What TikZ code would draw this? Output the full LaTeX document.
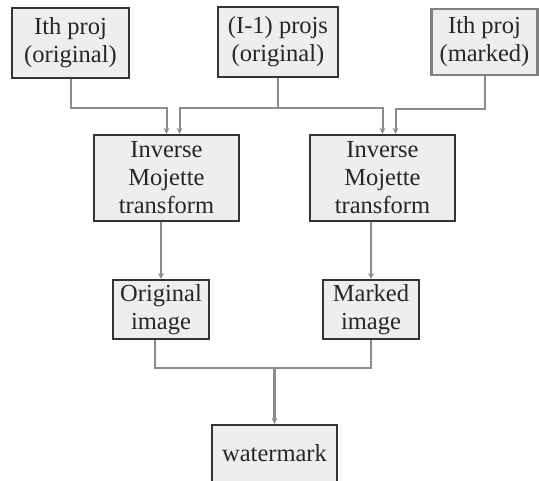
\documentclass[tikz,border=0pt]{standalone}
\usepackage{fontspec}
\setmainfont{Liberation Serif}
\usetikzlibrary{arrows.meta,calc}
\definecolor{boxfill}{HTML}{EEEEEE}
\definecolor{boxline}{HTML}{333333}
\definecolor{wire}{HTML}{8C8C8C}
\definecolor{ink}{HTML}{262626}
\tikzset{
  blk/.style={draw=boxline, line width=2.2pt, fill=boxfill, rectangle,
    inner sep=0pt, align=center, text=ink,
    font=\fontsize{24.5pt}{28pt}\selectfont},
  conn/.style={draw=wire, line width=2pt,
    -{Stealth[length=6pt,width=6pt]}},
  mainconn/.style={conn, line width=2.8pt},
  plain/.style={draw=wire, line width=2pt}
}
\begin{document}
\begin{tikzpicture}[x=1pt,y=-1pt]
  \useasboundingbox (0,0) rectangle (539,481);
  \clip (0,0) rectangle (539,481);

  % projection inputs
  \node[blk, minimum width=117pt, minimum height=70pt] (b1) at (70.5,43) {Ith proj\\(original)};
  \node[blk, minimum width=120pt, minimum height=70pt] (b2) at (278,42) {(I-1) projs\\(original)};
  \node[blk, draw=gray, minimum width=106pt, minimum height=66pt] (b3) at (484.5,42) {Ith proj\\(marked)};

  % reconstruction stages
  \node[blk, minimum width=145pt, minimum height=86pt] (inv1) at (166.5,178) {Inverse\\Mojette\\transform};
  \node[blk, minimum width=145pt, minimum height=86pt] (inv2) at (382.5,178) {Inverse\\Mojette\\transform};

  % reconstructed images
  \node[blk, minimum width=96pt, minimum height=59pt] (orig) at (161,309.5) {Original\\image};
  \node[blk, minimum width=96pt, minimum height=59pt] (mark) at (371,309.5) {Marked\\image};

  % extracted watermark
  \node[blk, minimum width=125pt, minimum height=86pt] (wm) at (274.5,468) {\raisebox{30pt}{watermark}};

  % input wiring
  \draw[conn] (b1.south) -- ++(0,29) -| (inv1.north);
  \draw[conn] (b2.south) -- ++(0,30) -| ([xshift=13pt]inv1.north);
  \draw[conn] (b2.south) -- ++(0,30) -| (inv2.north);
  \draw[conn] (b3.south) -- ++(0,33) -| ([xshift=13pt]inv2.north);

  % transforms to images
  \draw[conn] (inv1.south -| orig.north) -- (orig.north);
  \draw[conn] (inv2.south -| mark.north) -- (mark.north);

  % images to watermark
  \coordinate (j) at ([yshift=-28pt]orig.south);
  \draw[plain] ([xshift=-6pt]orig.south) |- (j -| mark.south) -- (mark.south);
  \draw[mainconn] (j -| wm.north) -- (wm.north);
\end{tikzpicture}
\end{document}
